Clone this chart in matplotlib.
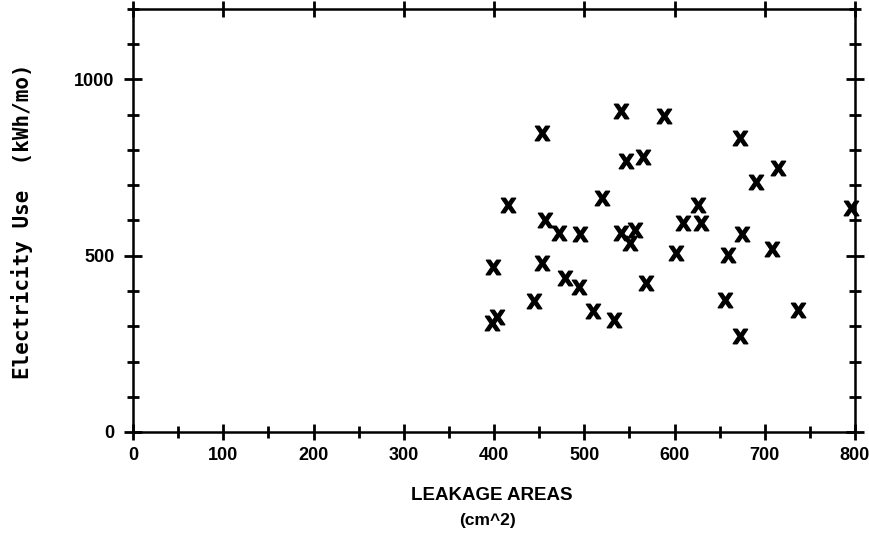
import numpy as np
import matplotlib
matplotlib.use("Agg")
import matplotlib.pyplot as plt
from matplotlib.ticker import MultipleLocator, FixedLocator

# leakage area (cm^2) vs monthly electricity use (kWh/mo)
leakage = [453, 416, 520, 456, 472, 495, 399, 453, 479, 494, 444, 510, 403, 398,
           541, 588, 546, 565, 626, 609, 629, 541, 556, 551, 602, 659, 568, 656,
           533, 673, 715, 690, 796, 675, 708, 737, 673]
electricity = [847, 644, 663, 601, 565, 561, 469, 480, 436, 410, 372, 344, 327, 308,
               911, 896, 769, 781, 644, 592, 594, 565, 573, 537, 509, 502, 422, 374,
               318, 835, 750, 710, 635, 562, 518, 347, 272]

xticks = [0, 100, 200, 300, 400, 500, 600, 700, 800]
yticks = [0, 500, 1000]

sans = ['Liberation Sans', 'DejaVu Sans']

fig = plt.figure(figsize=(8.69, 5.36), dpi=100)
ax = fig.add_axes([133 / 869, 1 - 432 / 536, (855 - 133) / 869, (432 - 9) / 536])

ax.plot(leakage, electricity, linestyle='none', marker=r'$\mathbf{X}$',
        markersize=10.5, color='black', clip_on=False)

ax.set_xlim(0, 800)
ax.set_ylim(0, 1200)

for s in ax.spines.values():
    s.set_linewidth(1.8)

ax.set_xticks(xticks)
ax.xaxis.set_minor_locator(FixedLocator(np.arange(50, 800, 100)))
ax.set_yticks(yticks)
ax.yaxis.set_minor_locator(MultipleLocator(100))

ax.tick_params(axis='x', which='major', direction='inout', length=12, width=2,
               top=True, pad=5)
ax.tick_params(axis='x', which='minor', direction='inout', length=8, width=2,
               top=False)
ax.tick_params(axis='y', which='major', direction='inout', length=13, width=2,
               right=True, pad=7)
ax.tick_params(axis='y', which='minor', direction='inout', length=9, width=2,
               right=True)

for lab in ax.get_xticklabels() + ax.get_yticklabels():
    lab.set_family(sans)
    lab.set_fontweight('bold')
    lab.set_fontsize(13)

fig.text(22 / 869, 1 - 221 / 536, 'Electricity Use  (kWh/mo)', rotation=90,
         ha='center', va='center', family='DejaVu Sans Mono', fontweight='bold',
         fontsize=15)
fig.text(492 / 869, 1 - 495 / 536, 'LEAKAGE AREAS', ha='center', va='center',
         family=sans, fontweight='bold', fontsize=13.5)
fig.text(487 / 869, 1 - 521 / 536, '(cm^2)', ha='center', va='center',
         family=sans, fontweight='bold', fontsize=12.5)

fig.savefig('out.png', dpi=100)
